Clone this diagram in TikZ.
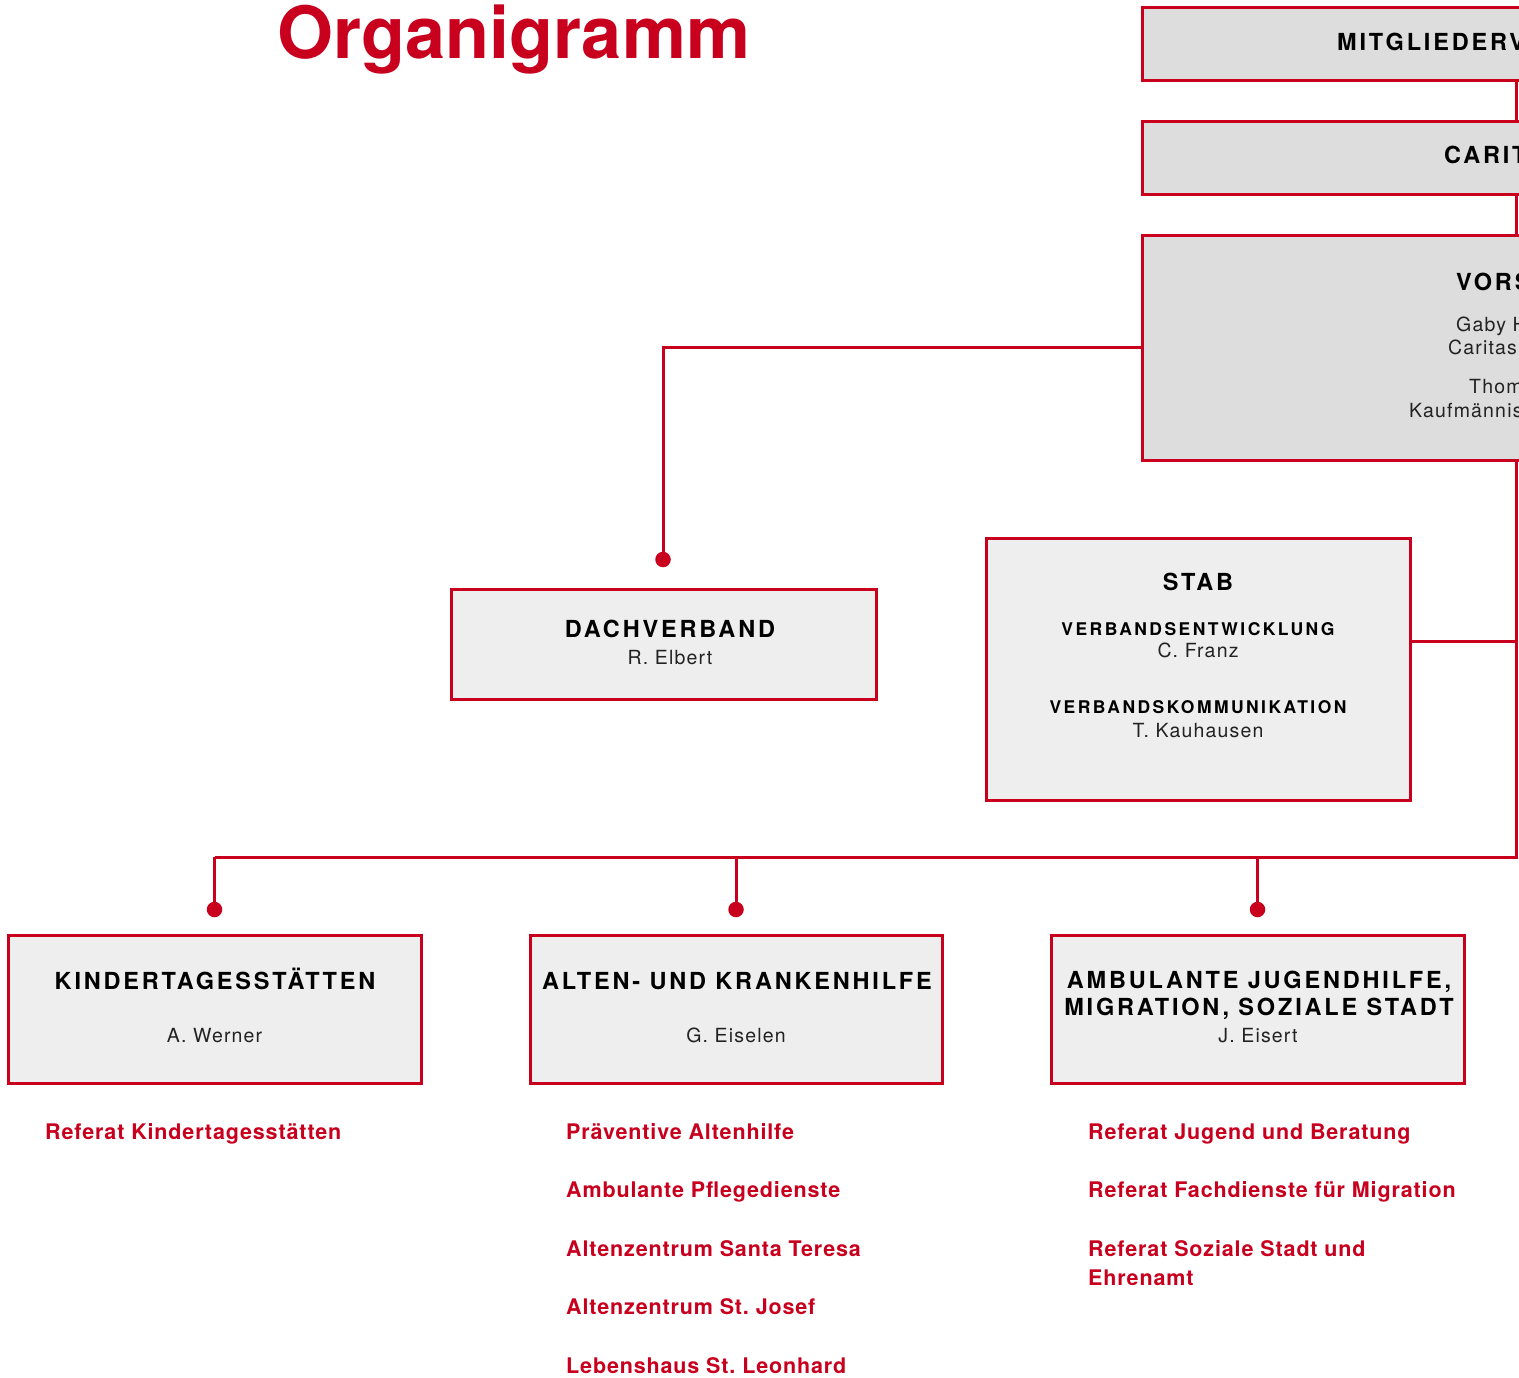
\documentclass[tikz,border=0pt]{standalone}
\usepackage{fontspec}
\setmainfont{TeX Gyre Heros}
\newfontfamily\headfont[LetterSpace=12]{TeX Gyre Heros}
\newfontfamily\subfont[LetterSpace=14]{TeX Gyre Heros}
\newfontfamily\personfont[LetterSpace=6]{TeX Gyre Heros}
\newfontfamily\unitfont[LetterSpace=4]{TeX Gyre Heros}
\usetikzlibrary{calc}
\frenchspacing
\definecolor{cared}{HTML}{C8001E}
\definecolor{topgray}{HTML}{DDDDDD}
\definecolor{boxgray}{HTML}{EEEEEE}
\definecolor{inkgray}{HTML}{222222}

\tikzset{
  orgbox/.style={draw=cared, line width=3pt, fill=boxgray, inner sep=0pt},
  topbox/.style={orgbox, fill=topgray, minimum width=748pt},
  head/.style={inner sep=0pt, anchor=base, text=black,
    font=\headfont\bfseries\fontsize{23.5}{27}\selectfont},
  subhead/.style={head, font=\subfont\bfseries\fontsize{17.5}{21}\selectfont},
  person/.style={inner sep=0pt, anchor=base, text=inkgray,
    font=\personfont\fontsize{19.5}{23}\selectfont},
  unit/.style={inner sep=0pt, anchor=base west, text=cared,
    font=\unitfont\bfseries\fontsize{21.5}{30}\selectfont},
  link/.style={draw=cared, line width=3pt},
  joint/.style={circle, fill=cared, inner sep=0pt, minimum size=15.5pt}
}

\begin{document}
\begin{tikzpicture}[x=1pt, y=-1pt]
\useasboundingbox (0,0) rectangle (1519,1378);
\clip (0,0) rectangle (1519,1378);

\node[anchor=base west, inner sep=0pt, text=cared,
  font=\bfseries\fontsize{72}{72}\selectfont] (title) at (277,59) {Organigramm};

% leitung
\node[topbox, minimum height=73pt] (mv) at (1516,44.5) {};
\node[topbox, minimum height=73pt] (cr) at (1516,158.5) {};
\node[topbox, minimum height=225pt] (vs) at (1516,347.5) {};
\node[head, anchor=base west] at (1337,51) {MITGLIEDERV};
\node[head, anchor=base west] at (1444,164) {CARIT};
\node[head, anchor=base west] at (1456,290) {VORS};
\node[person, anchor=base west] at (1456,331) {Gaby H};
\node[person, anchor=base west] at (1448,354) {Caritas};
\node[person, anchor=base west] at (1469,393) {Thom};
\node[person, anchor=base west] at (1409,417) {Kaufmännis};

\node[orgbox, minimum width=425pt, minimum height=110pt] (dach) at (663.5,644) {};
\node[head] at (670,637) {DACHVERBAND};
\node[person] at (670,664) {R. Elbert};

\node[orgbox, minimum width=424pt, minimum height=262pt] (stab) at (1198,669) {};
\node[head] at (1198,590) {STAB};
\node[subhead] at (1198,635) {VERBANDSENTWICKLUNG};
\node[person] at (1198,657) {C. Franz};
\node[subhead] at (1198,713) {VERBANDSKOMMUNIKATION};
\node[person] at (1198,737) {T. Kauhausen};

% bereiche
\node[orgbox, minimum width=413pt, minimum height=148pt] (kita) at (214.5,1009) {};
\node[orgbox, minimum width=412pt, minimum height=148pt] (alten) at (736,1009) {};
\node[orgbox, minimum width=413pt, minimum height=148pt] (jug) at (1257.5,1009) {};
\node[head] at (215,989) {KINDERTAGESSTÄTTEN};
\node[person] at (214.5,1042) {A. Werner};
\node[head] at (737,989) {ALTEN- UND KRANKENHILFE};
\node[person] at (736,1042) {G. Eiselen};
\node[head] at (1259,988) {AMBULANTE JUGENDHILFE,};
\node[head] at (1259,1015) {MIGRATION, SOZIALE STADT};
\node[person] at (1258,1042) {J. Eisert};

% verbindungen
\coordinate (bus) at (0,857);
\coordinate (sj) at (1516,641);
\coordinate (dachdot) at ($(dach.north)+(-0.5,-28)$);
\draw[link] (mv.south) -- (cr.north);
\draw[link] (cr.south) -- (vs.north);
\draw[link] (vs.west) -| (dachdot);
\node[joint] at (dachdot) {};
\draw[link] (vs.south) -- (vs.south |- bus) -- (bus -| kita.north);
\draw[link] (sj) -- (sj -| stab.east);
\foreach \b in {kita,alten,jug}
  \draw[link] (bus -| \b.north) -- ($(\b.north)+(0,-24)$) node[joint] {};

% referate
\node[unit] (kitaref) at (45,1139) {Referat Kindertagesstätten};
\foreach [count=\i] \t in {Präventive Altenhilfe, Ambulante Pflegedienste,
    Altenzentrum Santa Teresa, Altenzentrum St. Josef, Lebenshaus St. Leonhard}
  \node[unit] (alt\i) at (566,1080.5+58.5*\i) {\t};
\foreach [count=\i] \t in {Referat Jugend und Beratung,
    Referat Fachdienste für Migration, Referat Soziale Stadt und}
  \node[unit] (jug\i) at (1088,1080.5+58.5*\i) {\t};
\node[unit] (jug4) at (1088,1285) {Ehrenamt};
\end{tikzpicture}
\end{document}
